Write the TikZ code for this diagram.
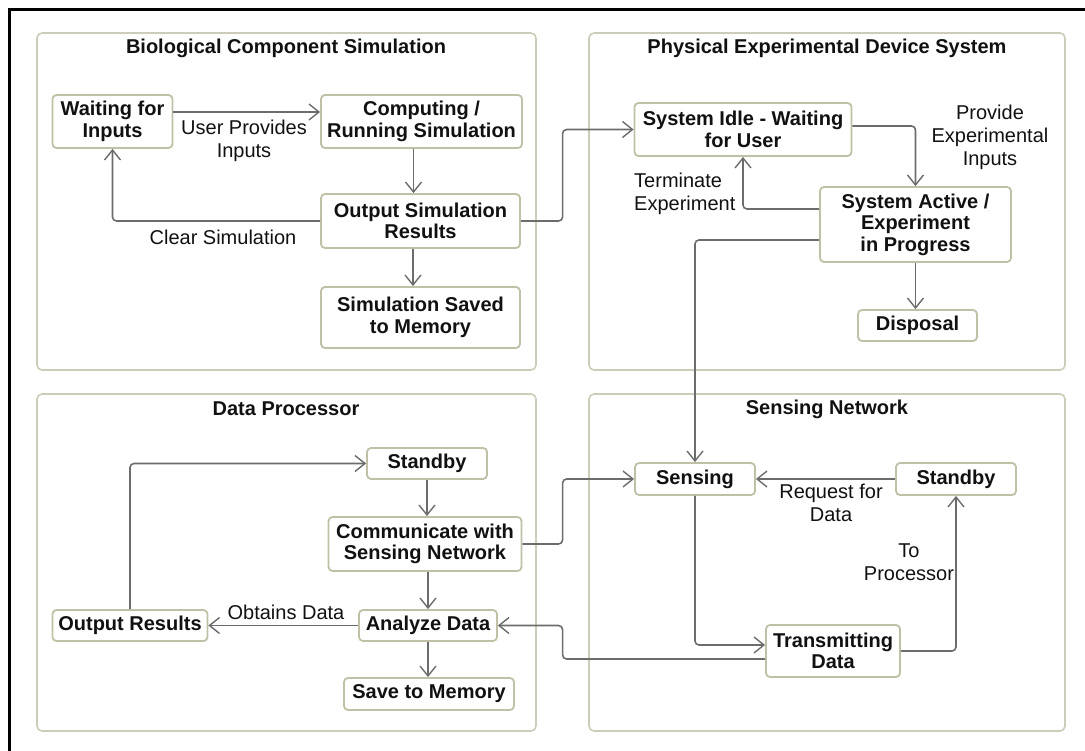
\documentclass[tikz,border=0pt]{standalone}
\usepackage{fontspec}
\setmainfont{Liberation Sans}
\usetikzlibrary{arrows.meta}
\definecolor{panelline}{RGB}{204,204,184}
\definecolor{boxline}{RGB}{192,192,166}
\definecolor{wire}{RGB}{108,108,108}
\definecolor{ink}{RGB}{17,17,17}
\begin{document}
\begin{tikzpicture}[x=1pt,y=-1pt,
  panel/.style={draw=panelline,line width=1.6pt,rounded corners=5pt},
  title/.style={font=\fontsize{20}{22}\selectfont\bfseries,text=ink,inner sep=0pt},
  state/.style={draw=boxline,line width=1.8pt,fill=white,rounded corners=4pt,
    inner sep=0pt,align=center,text=ink,font=\fontsize{20}{21.5}\selectfont\bfseries},
  lbl/.style={inner sep=0pt,align=center,text=ink,font=\fontsize{20}{23}\selectfont},
  conn/.style={draw=wire,line width=1.6pt,rounded corners=4pt,
    -{Straight Barb[length=10pt,width=16pt,line width=1.4pt]}}]
% canvas
\useasboundingbox (0,0) rectangle (1085,751);
\draw[line width=3pt] (9.5,751) -- (9.5,9.5) -- (1085,9.5);

% the four subsystem panels
\draw[panel] (37,33) rectangle (536,370);
\draw[panel] (589,33) rectangle (1065,370);
\draw[panel] (37,394) rectangle (536,731);
\draw[panel] (589,394) rectangle (1065,731);
\node[title] (t1) at (286,48) {Biological Component Simulation};
\node[title] (t2) at (827,48) {Physical Experimental Device System};
\node[title] (t3) at (286,409) {Data Processor};
\node[title] (t4) at (827,409) {Sensing Network};

% shared routing lane between the left and right panels
\coordinate (lane) at (562.6,0);

% biological component simulation
\node[state,minimum width=120pt,minimum height=53pt] (wait) at (112.5,121.5) {Waiting for\\Inputs};
\node[state,minimum width=201pt,minimum height=53pt] (comp) at (421.5,121.5) {Computing /\\Running Simulation};
\node[state,minimum width=199pt,minimum height=54pt] (outs) at (420.5,221) {Output Simulation\\Results};
\node[state,minimum width=199pt,minimum height=61pt] (saved) at (420.5,317.5) {Simulation Saved\\to Memory};

% physical experimental device system
\node[state,minimum width=217pt,minimum height=53pt] (idle) at (743,129.5) {System Idle - Waiting\\for User};
\node[state,minimum width=191pt,minimum height=75pt] (active) at (915.5,224.5) {System Active /\\Experiment\\in Progress};
\node[state,minimum width=119pt,minimum height=31pt] (disp) at (917.5,325.5) {Disposal};

% data processor
\node[state,minimum width=120pt,minimum height=31pt] (pstand) at (427,463.5) {Standby};
\node[state,minimum width=193pt,minimum height=54pt] (comm) at (425,544) {Communicate with\\Sensing Network};
\node[state,minimum width=138pt,minimum height=31pt] (anal) at (428,625.5) {Analyze Data};
\node[state,minimum width=170pt,minimum height=32pt] (save) at (429,694) {Save to Memory};
\node[state,minimum width=155pt,minimum height=31pt] (outr) at (130,625.5) {Output Results};

% sensing network
\node[state,minimum width=120pt,minimum height=32pt] (sens) at (695,479) {Sensing};
\node[state,minimum width=120pt,minimum height=32pt] (sstand) at (956,479) {Standby};
\node[state,minimum width=134pt,minimum height=52pt] (trans) at (833,651) {Transmitting\\Data};

% transitions: simulation
\draw[conn] ([yshift=9.5pt]wait.east) -- ([yshift=9.5pt]comp.west);
\node[lbl] (lup) at (244,141) {User Provides\\Inputs};
\draw[conn] ([xshift=-8pt]comp.south) -- ([xshift=-8pt]comp.south |- outs.north);
\draw[conn] (outs.west) -| (wait.south);
\node[lbl] (lclr) at (223,237) {Clear Simulation};
\draw[conn] ([xshift=-7.5pt]outs.south) -- ([xshift=-7.5pt]outs.south |- saved.north);
\draw[conn] (outs.east) -| (lane |- idle.west) -- (idle.west);

% transitions: device system
\draw[conn] ([yshift=3.5pt]idle.east) -| (active.north);
\node[lbl] (lprov) at (990,137) {Provide\\Experimental\\Inputs};
\draw[conn] ([yshift=15.5pt]active.west) -| (idle.south);
\node[lbl,align=left,anchor=west] (lterm) at (634,194) {Terminate\\Experiment};
\draw[conn] ([yshift=-15.5pt]active.west) -| (sens.north);
\draw[conn] (active.south) -- (active.south |- disp.north);

% transitions: data processor
\draw[conn] (pstand.south) -- (pstand.south |- comm.north);
\draw[conn] (anal.north |- comm.south) -- (anal.north);
\draw[conn] (anal.south) -- (anal.south |- save.north);
\draw[conn] (anal.west) -- (outr.east);
\node[lbl] (lobt) at (286,612) {Obtains Data};
\draw[conn] (outr.north) |- (pstand.west);
\draw[conn] (comm.east) -| (lane |- sens.west) -- (sens.west);

% transitions: sensing network
\draw[conn] (sstand.west) -- (sens.east);
\node[lbl] (lreq) at (831,503) {Request for\\Data};
\draw[conn] (sens.south) |- ([yshift=6pt]trans.west);
\draw[conn] (trans.east) -| (sstand.south);
\node[lbl] (lproc) at (909,562) {To\\Processor};
\draw[conn] ([yshift=-8pt]trans.west) -| (lane |- anal.east) -- (anal.east);
\end{tikzpicture}
\end{document}
